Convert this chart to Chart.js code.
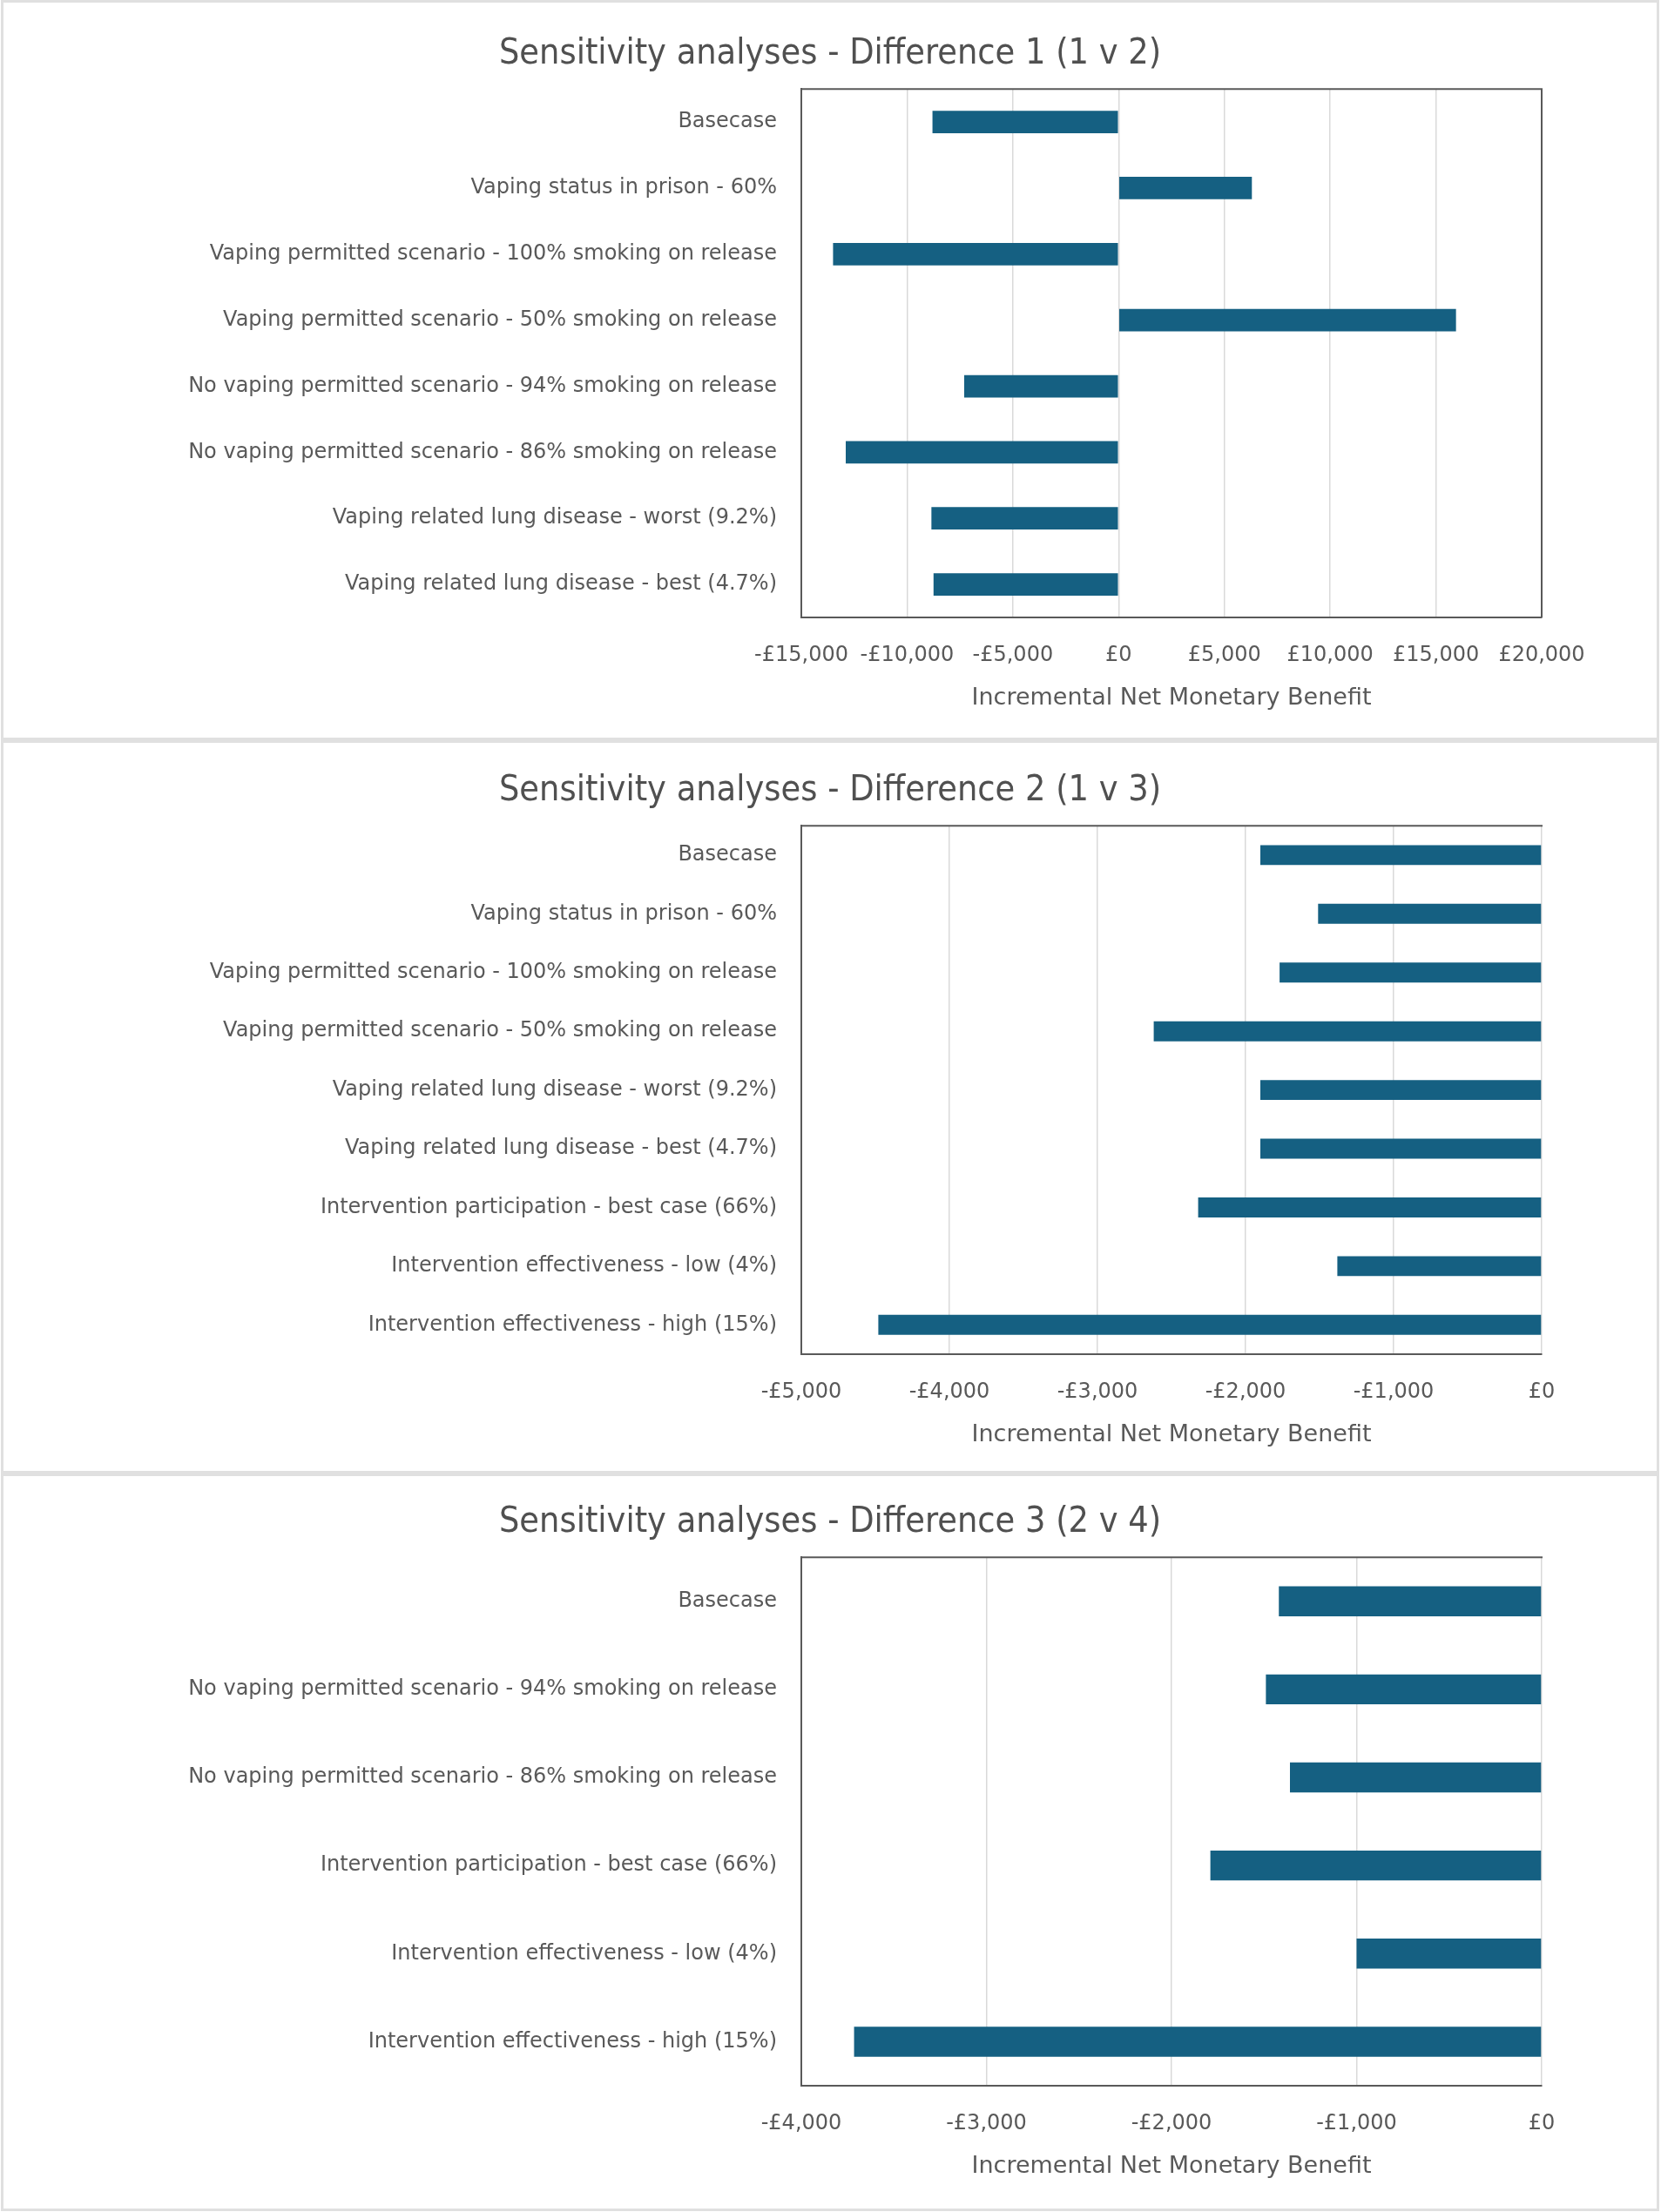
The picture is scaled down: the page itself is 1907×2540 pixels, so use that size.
<!DOCTYPE html>
<html>
<head>
<meta charset="utf-8">
<title>Sensitivity analyses</title>
<script src="https://cdn.jsdelivr.net/npm/chart.js@4.4.1/dist/chart.umd.min.js"></script>
<style>
  html, body { margin: 0; padding: 0; background: #fff; }
  body { position: relative; width: 1907px; height: 2540px; overflow: hidden; }
  .panel { position: absolute; box-sizing: border-box; border: 3px solid #e0e0e0; left: 1px; width: 1904px; }
  canvas { position: absolute; left: 0; }
</style>
</head>
<body>
<div class="panel" style="top:0;height:850px"></div>
<div class="panel" style="top:850px;height:842px"></div>
<div class="panel" style="top:1692px;height:847px"></div>
<canvas id="chart1" width="1907" height="840" style="top:0"></canvas>
<canvas id="chart2" width="1907" height="840" style="top:846px"></canvas>
<canvas id="chart3" width="1907" height="840" style="top:1686px"></canvas>
<script>
// ============ Data ============
// Difference 1 (1 v 2)
const diff1Labels = [
  'Basecase',
  'Vaping status in prison - 60%',
  'Vaping permitted scenario - 100% smoking on release',
  'Vaping permitted scenario - 50% smoking on release',
  'No vaping permitted scenario - 94% smoking on release',
  'No vaping permitted scenario - 86% smoking on release',
  'Vaping related lung disease - worst (9.2%)',
  'Vaping related lung disease - best (4.7%)'
];
const diff1Values = [-8800, 6300, -13500, 15950, -7300, -12900, -8850, -8750];
const diff1Ticks = [-15000, -10000, -5000, 0, 5000, 10000, 15000, 20000];

// Difference 2 (1 v 3)
const diff2Labels = [
  'Basecase',
  'Vaping status in prison - 60%',
  'Vaping permitted scenario - 100% smoking on release',
  'Vaping permitted scenario - 50% smoking on release',
  'Vaping related lung disease - worst (9.2%)',
  'Vaping related lung disease - best (4.7%)',
  'Intervention participation - best case (66%)',
  'Intervention effectiveness - low (4%)',
  'Intervention effectiveness - high (15%)'
];
const diff2Values = [-1900, -1510, -1770, -2620, -1900, -1900, -2320, -1380, -4480];
const diff2Ticks = [-5000, -4000, -3000, -2000, -1000, 0];

// Difference 3 (2 v 4)
const diff3Labels = [
  'Basecase',
  'No vaping permitted scenario - 94% smoking on release',
  'No vaping permitted scenario - 86% smoking on release',
  'Intervention participation - best case (66%)',
  'Intervention effectiveness - low (4%)',
  'Intervention effectiveness - high (15%)'
];
const diff3Values = [-1420, -1490, -1360, -1790, -1000, -3715];
const diff3Ticks = [-4000, -3000, -2000, -1000, 0];

// ============ Styles ============
const BAR_COLOR = '#156082';
const TEXT_COLOR = '#595959';
const TITLE_COLOR = '#505050';
const FRAME_COLOR = '#595959';
const GRID_COLOR = '#d9d9d9';
const FONT = "'DejaVu Sans', sans-serif";
const TITLE_FONT = "'DejaVu Sans Condensed', 'DejaVu Sans', sans-serif";

// Draws the top edge (and optionally the right edge) of the plot box
const framePlugin = {
  id: 'frame',
  afterDatasetsDraw(chart, args, opts) {
    const {ctx, chartArea} = chart;
    ctx.save();
    ctx.strokeStyle = opts.color;
    ctx.lineWidth = opts.width;
    ctx.beginPath();
    ctx.moveTo(chartArea.left - 1, chartArea.top);
    ctx.lineTo(chartArea.right + 1, chartArea.top);
    if (opts.right) {
      ctx.moveTo(chartArea.right, chartArea.top);
      ctx.lineTo(chartArea.right, chartArea.bottom);
    }
    ctx.stroke();
    ctx.restore();
  }
};

function formatPounds(value) {
  const abs = String(Math.abs(value)).replace(/\B(?=(\d{3})+(?!\d))/g, ',');
  return (value < 0 ? '-£' : '£') + abs;
}

function makeChart(canvasId, title, labels, values, ticks, frameRight) {
  return new Chart(document.getElementById(canvasId), {
    type: 'bar',
    data: {
      labels: labels,
      datasets: [{
        data: values,
        backgroundColor: BAR_COLOR,
        barPercentage: 0.34,
        categoryPercentage: 1
      }]
    },
    options: {
      indexAxis: 'y',
      responsive: false,
      animation: false,
      layout: { padding: { left: 136, right: 137, top: 0, bottom: 11 } },
      plugins: {
        legend: { display: false },
        tooltip: { enabled: false },
        title: {
          display: true,
          text: title,
          color: TITLE_COLOR,
          font: { family: TITLE_FONT, size: 41, weight: 'normal' },
          padding: { top: 38, bottom: 15 }
        },
        frame: { color: FRAME_COLOR, width: 2, right: frameRight }
      },
      scales: {
        x: {
          min: ticks[0],
          max: ticks[ticks.length - 1],
          afterBuildTicks(scale) {
            scale.ticks = ticks.map(v => ({ value: v }));
          },
          ticks: {
            callback: formatPounds,
            color: TEXT_COLOR,
            font: { family: FONT, size: 24 },
            padding: 29,
            autoSkip: false,
            maxRotation: 0
          },
          grid: { color: GRID_COLOR, lineWidth: 1.5, drawTicks: false },
          border: { display: true, color: FRAME_COLOR, width: 2 },
          title: {
            display: true,
            text: 'Incremental Net Monetary Benefit',
            color: TEXT_COLOR,
            font: { family: FONT, size: 27 },
            padding: { top: 0, bottom: 11 }
          },
          afterFit(scale) { scale.height = 120; }
        },
        y: {
          ticks: {
            color: TEXT_COLOR,
            font: { family: FONT, size: 24 },
            padding: 28
          },
          grid: { display: false, drawTicks: false },
          border: { display: true, color: FRAME_COLOR, width: 2 },
          afterFit(scale) { scale.width = 784; }
        }
      }
    },
    plugins: [framePlugin]
  });
}

makeChart('chart1', 'Sensitivity analyses - Difference 1 (1 v 2)', diff1Labels, diff1Values, diff1Ticks, true);
makeChart('chart2', 'Sensitivity analyses - Difference 2 (1 v 3)', diff2Labels, diff2Values, diff2Ticks, false);
makeChart('chart3', 'Sensitivity analyses - Difference 3 (2 v 4)', diff3Labels, diff3Values, diff3Ticks, false);
</script>
</body>
</html>
